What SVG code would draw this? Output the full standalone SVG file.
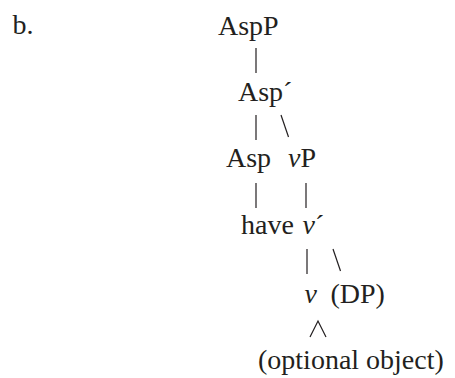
<svg xmlns="http://www.w3.org/2000/svg" width="455" height="378" viewBox="0 0 455 378">
<style>
text{font-family:"Liberation Serif","Times New Roman",serif;font-size:28px;fill:#231f20}
.i{font-style:italic}
.c line,.c polyline{stroke:#231f20;stroke-width:1.2;fill:none}
</style>
<rect width="455" height="378" fill="#fff"/>
<text id="label" x="12.5" y="34">b.</text>
<g id="AspP"><text x="218" y="34.5">AspP</text></g>
<g id="AspBar"><text x="238" y="101">Asp´</text></g>
<g id="Asp"><text x="226" y="167">Asp</text></g>
<g id="vP"><text x="288" y="167"><tspan class="i">v</tspan>P</text></g>
<g id="have"><text x="241" y="233.5">have</text></g>
<g id="vBar"><text x="302.5" y="233.5"><tspan class="i">v</tspan>´</text></g>
<g id="v"><text class="i" x="304.5" y="303">v</text></g>
<g id="DP"><text x="330.5" y="303">(DP)</text></g>
<g id="obj"><text x="258" y="369">(optional object)</text></g>
<g class="c" id="connectors">
<line x1="256" y1="48" x2="256" y2="73"/>
<line x1="256" y1="115" x2="256" y2="140"/>
<line x1="281" y1="115" x2="288.5" y2="137"/>
<line x1="256" y1="183" x2="256" y2="208"/>
<line x1="306" y1="183" x2="306" y2="208"/>
<line x1="307" y1="249" x2="307" y2="274"/>
<line x1="333" y1="249" x2="340.5" y2="271"/>
<polyline points="310,337 318,321 326,337"/>
</g>
</svg>
